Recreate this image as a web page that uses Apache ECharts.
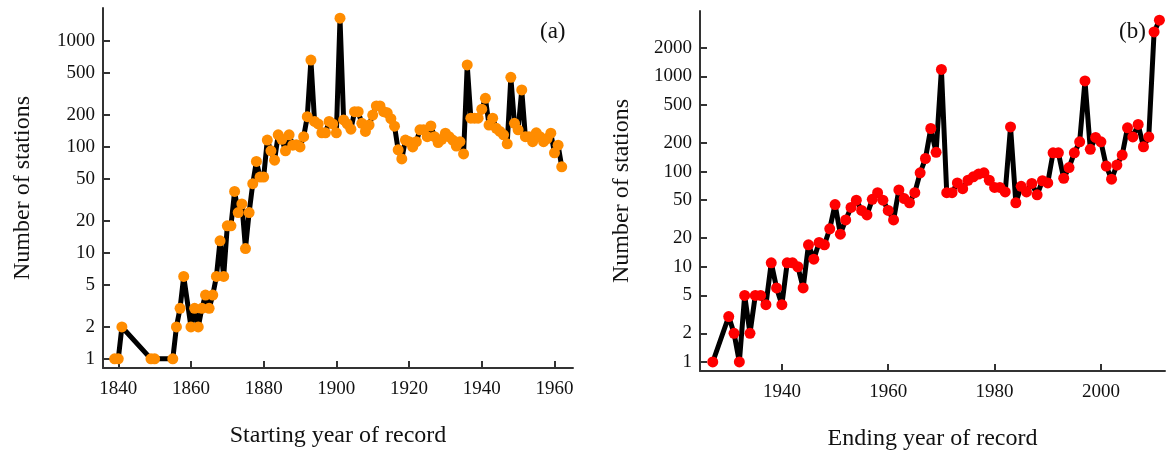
<!DOCTYPE html>
<html>
<head>
<meta charset="utf-8">
<script src="https://cdn.jsdelivr.net/npm/echarts@6/dist/echarts.min.js"></script>
<style>
  html, body { margin: 0; padding: 0; background: #fff; }
  #chart { width: 1169px; height: 457px; }
</style>
</head>
<body>
<div id="chart"></div>
<script>
// (a) starting year of record
var startYears = [1839, 1840, 1841, 1849, 1850, 1855, 1856, 1857, 1858, 1860,
  1861, 1862, 1863, 1864, 1865, 1866, 1867, 1868, 1869, 1870,
  1871, 1872, 1873, 1874, 1875, 1876, 1877, 1878, 1879, 1880,
  1881, 1882, 1883, 1884, 1885, 1886, 1887, 1888, 1889, 1890,
  1891, 1892, 1893, 1894, 1895, 1896, 1897, 1898, 1899, 1900,
  1901, 1902, 1903, 1904, 1905, 1906, 1907, 1908, 1909, 1910,
  1911, 1912, 1913, 1914, 1915, 1916, 1917, 1918, 1919, 1920,
  1921, 1922, 1923, 1924, 1925, 1926, 1927, 1928, 1929, 1930,
  1931, 1932, 1933, 1934, 1935, 1936, 1937, 1938, 1939, 1940,
  1941, 1942, 1943, 1944, 1945, 1946, 1947, 1948, 1949, 1950,
  1951, 1952, 1953, 1954, 1955, 1956, 1957, 1958, 1959, 1960,
  1961, 1962];
var startCounts = [1, 1, 2, 1, 1, 1, 2, 3, 6, 2,
  3, 2, 3, 4, 3, 4, 6, 13, 6, 18,
  18, 38, 24, 29, 11, 24, 45, 73, 52, 52,
  116, 92, 75, 130, 118, 92, 130, 104, 105, 100,
  125, 193, 660, 174, 165, 136, 136, 174, 165, 136,
  1640, 180, 165, 147, 215, 215, 167, 140, 161, 200,
  244, 244, 215, 210, 185, 157, 94, 77, 116, 112,
  100, 112, 145, 145, 125, 158, 125, 110, 118, 135,
  125, 116, 102, 112, 86, 594, 187, 187, 187, 227,
  288, 161, 187, 150, 140, 130, 107, 454, 167, 145,
  345, 125, 125, 112, 136, 125, 112, 120, 135, 88,
  104, 65];

// (b) ending year of record
var endYears = [1927, 1930, 1931, 1932, 1933, 1934, 1935, 1936, 1937, 1938,
  1939, 1940, 1941, 1942, 1943, 1944, 1945, 1946, 1947, 1948,
  1949, 1950, 1951, 1952, 1953, 1954, 1955, 1956, 1957, 1958,
  1959, 1960, 1961, 1962, 1963, 1964, 1965, 1966, 1967, 1968,
  1969, 1970, 1971, 1972, 1973, 1974, 1975, 1976, 1977, 1978,
  1979, 1980, 1981, 1982, 1983, 1984, 1985, 1986, 1987, 1988,
  1989, 1990, 1991, 1992, 1993, 1994, 1995, 1996, 1997, 1998,
  1999, 2000, 2001, 2002, 2003, 2004, 2005, 2006, 2007, 2008,
  2009, 2010, 2011];
var endCounts = [1, 3, 2, 1, 5, 2, 5, 5, 4, 11,
  6, 4, 11, 11, 10, 6, 17, 12, 18, 17,
  25, 45, 22, 31, 42, 50, 39, 35, 51, 60,
  50, 39, 31, 64, 52, 47, 60, 97, 137, 283,
  159, 1180, 60, 60, 76, 66, 81, 88, 94, 97,
  81, 68, 68, 61, 294, 47, 70, 61, 75, 57,
  80, 76, 157, 157, 85, 110, 157, 205, 895, 171,
  228, 205, 114, 83, 117, 149, 288, 231, 312, 182,
  231, 2924, 3880];

var xTicksA = [1840, 1860, 1880, 1900, 1920, 1940, 1960];
var xTicksB = [1940, 1960, 1980, 2000];
var yTicksA = [1, 2, 5, 10, 20, 50, 100, 200, 500, 1000];
var yTicksB = [1, 2, 5, 10, 20, 50, 100, 200, 500, 1000, 2000];

var pairs = function(xs, ys){
	return xs.map(function(x, i){ return [x, ys[i]]; });
};
var plain = function(v){ return String(Math.round(v)); };

var FONT = 'Liberation Serif';
var TXT = '#111';

var xAxisBase = function(idx, min, max, ticks, name){
	return {
		type: 'value', gridIndex: idx, min: min, max: max,
		name: name, nameLocation: 'middle', nameGap: 56,
		nameTextStyle: { fontFamily: FONT, fontSize: 24, color: TXT },
		axisLine: { show: true, lineStyle: { color: '#333', width: 2 } },
		axisTick: { show: true, inside: true, length: 7, customValues: ticks, lineStyle: { color: '#333', width: 2 } },
		axisLabel: { customValues: ticks, formatter: plain, margin: 12, fontFamily: FONT, fontSize: 19, color: TXT },
		splitLine: { show: false }
	};
};
var yAxisBase = function(idx, min, max, ticks, gap){
	return {
		type: 'log', logBase: 10, gridIndex: idx, min: min, max: max,
		name: 'Number of stations', nameLocation: 'middle', nameGap: gap, nameRotate: 90,
		nameTextStyle: { fontFamily: FONT, fontSize: 24, color: TXT },
		axisLine: { show: true, lineStyle: { color: '#333', width: 2 } },
		axisTick: { show: true, inside: true, length: 7, customValues: ticks, lineStyle: { color: '#333', width: 2 } },
		axisLabel: { customValues: ticks, formatter: plain, margin: 8, fontFamily: FONT, fontSize: 19, color: TXT },
		minorTick: { show: false },
		splitLine: { show: false }
	};
};

var myChart = echarts.init(document.getElementById('chart'));
var option = {
	animation: false,
	backgroundColor: '#fff',
	grid: [
		{ left: 103, top: 8, width: 470, height: 360, outerBoundsMode: 'none' },
		{ left: 700, top: 11, width: 465, height: 360, outerBoundsMode: 'none' }
	],
	title: [
		{ text: '(a)', left: 535, top: 15, textStyle: { fontFamily: FONT, fontSize: 23, fontWeight: 'normal', color: TXT } },
		{ text: '(b)', left: 1114, top: 15, textStyle: { fontFamily: FONT, fontSize: 23, fontWeight: 'normal', color: TXT } }
	],
	xAxis: [
		xAxisBase(0, 1835.8, 1965.1, xTicksA, 'Starting year of record'),
		xAxisBase(1, 1924.6, 2012.05, xTicksB, 'Ending year of record')
	],
	yAxis: [
		yAxisBase(0, 0.82, 2048, yTicksA, 68),
		yAxisBase(1, 0.804, 4850, yTicksB, 66)
	],
	series: [
		{
			type: 'line', xAxisIndex: 0, yAxisIndex: 0,
			data: pairs(startYears, startCounts),
			symbol: 'circle', symbolSize: 11, showAllSymbol: true,
			itemStyle: { color: '#ff8c00' },
			lineStyle: { color: '#000', width: 5 }
		},
		{
			type: 'line', xAxisIndex: 1, yAxisIndex: 1,
			data: pairs(endYears, endCounts),
			symbol: 'circle', symbolSize: 11, showAllSymbol: true,
			itemStyle: { color: '#ff0000' },
			lineStyle: { color: '#000', width: 5 }
		}
	]
};
myChart.setOption(option);
</script>
</body>
</html>
